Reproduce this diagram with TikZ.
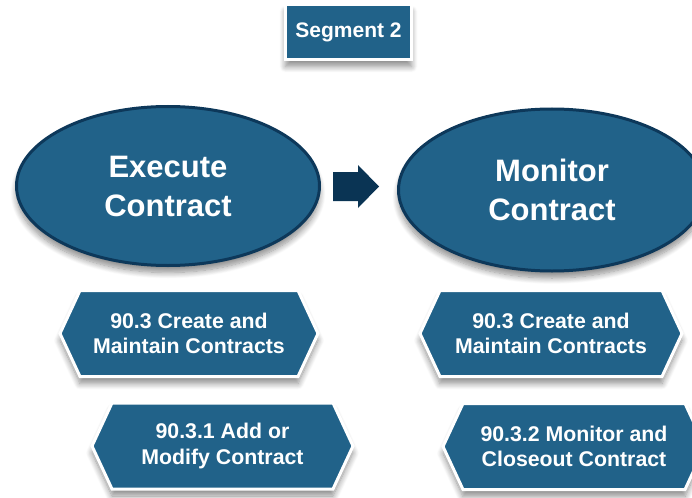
\documentclass[tikz,border=0pt]{standalone}
\usepackage{fontspec}
\setmainfont{Liberation Sans}
\usetikzlibrary{shapes.geometric,shadows.blur}
\definecolor{boxblue}{RGB}{33,98,137}
\definecolor{arrnavy}{RGB}{10,52,84}
\definecolor{rimnavy}{RGB}{13,56,90}
\tikzset{
  softshadow/.style={blur shadow={shadow xshift=0pt, shadow yshift=-7pt, shadow blur radius=6pt, shadow blur steps=10, shadow opacity=45}},
  ellbox/.style={ellipse, draw=rimnavy, line width=3pt, fill=boxblue, softshadow,
    inner sep=0pt, text=white, align=center,
    font=\fontsize{31}{39}\selectfont\bfseries},
  hexpath/.style={draw=white, line width=3pt, fill=boxblue, softshadow, line join=miter},
  hextext/.style={text=white, align=center, inner sep=0pt,
    font=\fontsize{21.3}{25.5}\selectfont\bfseries},
  segbox/.style={rectangle, draw=white, line width=3pt, fill=boxblue, softshadow,
    text=white, inner sep=0pt, font=\fontsize{21}{25}\selectfont\bfseries},
}
\newcommand{\hexagonbox}[5]{%
  \path[hexpath] ({#2-#4},{#3}) -- ({#2-#4+20},{#3-43}) -- ({#2+#4-20},{#3-43})
    -- ({#2+#4},{#3}) -- ({#2+#4-20},{#3+43}) -- ({#2-#4+20},{#3+43}) -- cycle;
  \node[hextext] (#1) at (#2,#3) {#5};
}
\begin{document}
\begin{tikzpicture}[x=1pt,y=-1pt]
\useasboundingbox (0,0) rectangle (692,497);
\clip (0,0) rectangle (692,497);
\node[segbox, minimum width=126pt, minimum height=55pt] (seg) at (348.5,32) {Segment 2};
\node[ellbox, minimum width=303pt, minimum height=159pt] (exec) at (168,186) {Execute\\Contract};
\node[ellbox, minimum width=307pt, minimum height=162pt] (mon) at (552,190) {Monitor\\Contract};
\coordinate (arrstart) at (333,186.5);
\fill[arrnavy] (arrstart) ++(0,-14.5) -- ++(25,0) -- ++(0,-7) -- (379,186.5)
  -- (358,208) -- (358,201) -- (333,201) -- cycle;
\hexagonbox{ca}{189}{333.5}{129}{90.3 Create and\\Maintain Contracts}
\hexagonbox{am}{222.5}{446}{130.5}{90.3.1 Add or\\Modify Contract}
\hexagonbox{cb}{551}{333.5}{131}{90.3 Create and\\Maintain Contracts}
\hexagonbox{mc}{574}{446.5}{131}{90.3.2 Monitor and\\Closeout Contract}
\end{tikzpicture}
\end{document}
